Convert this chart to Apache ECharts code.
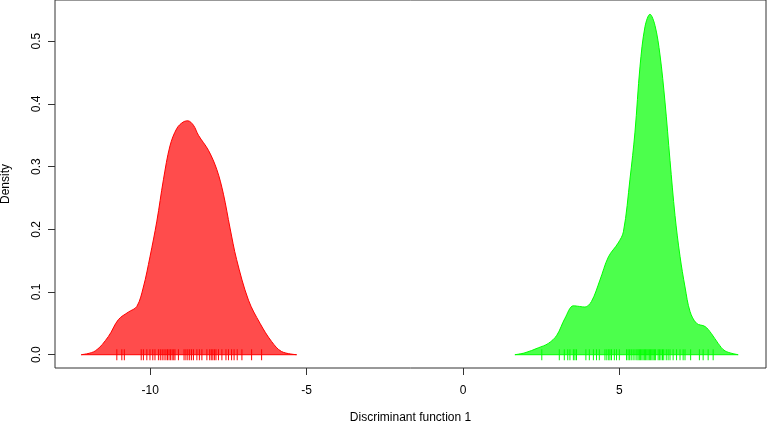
<!DOCTYPE html>
<html>
<head>
<meta charset="utf-8">
<script src="https://cdn.jsdelivr.net/npm/echarts@6/dist/echarts.min.js"></script>
<style>
html,body{margin:0;padding:0;background:#fff;}
#chart{width:767px;height:423px;}
</style>
</head>
<body>
<div id="chart"></div>
<script>
// Density curve of group 1 (red): [x, density]
const redDensity = [
  [-12.21, 0.000], [-11.76, 0.006], [-11.34, 0.029], [-11.02, 0.056], [-10.70, 0.068],
  [-10.43, 0.077], [-10.22, 0.108], [-10.01, 0.156], [-9.79, 0.213], [-9.58, 0.279],
  [-9.37, 0.333], [-9.15, 0.361], [-8.95, 0.371], [-8.80, 0.373], [-8.62, 0.366],
  [-8.46, 0.350], [-8.14, 0.326], [-7.87, 0.295], [-7.66, 0.256], [-7.45, 0.202],
  [-7.24, 0.152], [-6.86, 0.087], [-6.49, 0.050], [-6.12, 0.021], [-5.80, 0.005],
  [-5.32, 0.000]
];
// Density curve of group 2 (green): [x, density]
const greenDensity = [
  [1.66, 0.000], [1.98, 0.003], [2.41, 0.011], [2.73, 0.018], [3.00, 0.031],
  [3.26, 0.058], [3.53, 0.078], [3.72, 0.077], [3.90, 0.076], [4.11, 0.085],
  [4.38, 0.119], [4.65, 0.156], [4.96, 0.178], [5.13, 0.196], [5.34, 0.280],
  [5.50, 0.355], [5.66, 0.459], [5.82, 0.523], [5.98, 0.543], [6.14, 0.525],
  [6.30, 0.478], [6.46, 0.403], [6.62, 0.310], [6.78, 0.222], [6.94, 0.157],
  [7.10, 0.108], [7.26, 0.069], [7.47, 0.050], [7.74, 0.045], [7.94, 0.034],
  [8.16, 0.018], [8.38, 0.006], [8.80, 0.000]
];
// Rug (individual observations) for each group
const redRug = [
  -11.07, -10.91, -10.83, -10.29, -10.22, -10.11, -10.01, -9.92, -9.85, -9.74,
  -9.68, -9.62, -9.56, -9.50, -9.45, -9.40, -9.35, -9.30, -9.25, -9.21, -9.10,
  -8.92, -8.86, -8.80, -8.74, -8.68, -8.62, -8.51, -8.43, -8.35, -8.19,
  -8.10, -8.05, -8.00, -7.95, -7.90, -7.82, -7.71, -7.58, -7.50, -7.40,
  -7.32, -7.22, -7.07, -6.76, -6.44
];
const greenRug = [
  2.52, 3.08, 3.24, 3.35, 3.42, 3.53, 3.58, 3.63, 3.93, 4.04, 4.17, 4.27, 4.36,
  4.54, 4.60, 4.66, 4.70, 4.75, 4.84, 4.91, 5.00, 5.23, 5.28, 5.33, 5.38, 5.44,
  5.50, 5.56, 5.60, 5.64, 5.68, 5.72, 5.76, 5.80, 5.84, 5.88, 5.92, 5.96, 6.00,
  6.04, 6.08, 6.12, 6.16, 6.24, 6.28, 6.33, 6.38, 6.42, 6.50, 6.56, 6.62, 6.72,
  6.83, 6.94, 7.04, 7.10, 7.28, 7.56, 7.68, 7.84, 8.00
];
const xTicks = [-10, -5, 0, 5];
const yTicks = [0, 0.1, 0.2, 0.3, 0.4, 0.5];
const xTitle = 'Discriminant function 1';
const yTitle = 'Density';

const FONT = 'Liberation Sans';
const chart = echarts.init(document.getElementById('chart'), null, {renderer: 'canvas'});

function densitySeries(data, line, fill) {
  return {
    type: 'line', data: data, smooth: 0.35, showSymbol: false,
    lineStyle: {color: line, width: 1}, areaStyle: {color: fill, opacity: 1, origin: 0},
    z: 2, silent: true
  };
}
function baseSeries(data, line) {
  return {
    type: 'line', data: [[data[0][0], 0], [data[data.length - 1][0], 0]],
    showSymbol: false, lineStyle: {color: line, width: 1}, z: 3, silent: true
  };
}
function rugSeries(vals, color) {
  return {
    type: 'scatter', data: vals.map(v => [v, 0]), symbol: 'rect', symbolSize: [1, 11],
    itemStyle: {color: color, opacity: 1}, z: 4, silent: true
  };
}

chart.setOption({
  animation: false,
  backgroundColor: '#ffffff',
  grid: {left: 55, right: 1, top: 0, bottom: 55, containLabel: false, outerBoundsMode: 'none',
    show: true, borderColor: '#333', borderWidth: 1, backgroundColor: 'transparent'},
  xAxis: {
    type: 'value', min: -13.047, max: 9.69,
    name: xTitle, nameLocation: 'middle', nameGap: 44,
    nameTextStyle: {fontFamily: FONT, fontSize: 12, color: '#000'},
    axisLine: {show: false, onZero: false},
    axisTick: {show: true, inside: false, length: 7, customValues: xTicks, lineStyle: {color: '#333'}},
    axisLabel: {customValues: xTicks, margin: 17, fontFamily: FONT, fontSize: 12, color: '#000'},
    splitLine: {show: false}
  },
  yAxis: {
    type: 'value', min: -0.0212, max: 0.5657,
    name: yTitle, nameLocation: 'middle', nameGap: 43,
    nameTextStyle: {fontFamily: FONT, fontSize: 12, color: '#000'},
    axisLine: {show: false, onZero: false},
    axisTick: {show: true, inside: false, length: 7, customValues: yTicks, lineStyle: {color: '#333'}},
    axisLabel: {customValues: yTicks, rotate: 90, margin: 12.5, fontFamily: FONT, fontSize: 12, color: '#000',
      formatter: v => v.toFixed(1)},
    splitLine: {show: false}
  },
  series: [
    densitySeries(redDensity, '#ff0000', 'rgba(255,0,0,0.7)'),
    baseSeries(redDensity, '#ff0000'),
    rugSeries(redRug, '#ff0000'),
    densitySeries(greenDensity, '#00ff00', 'rgba(0,255,0,0.7)'),
    baseSeries(greenDensity, '#00ff00'),
    rugSeries(greenRug, '#00ff00')
  ]
});
</script>
</body>
</html>
